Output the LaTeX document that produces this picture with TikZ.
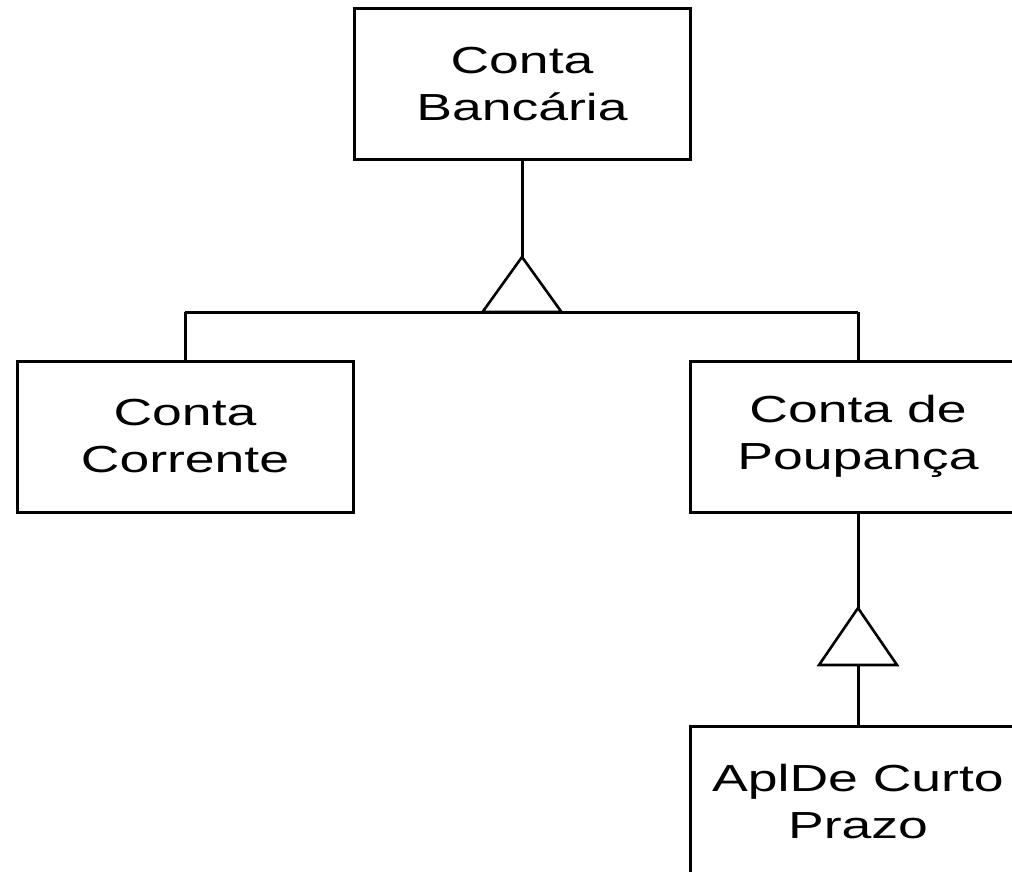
\documentclass[tikz,border=0pt]{standalone}
\usepackage{fontspec}
\setmainfont{Liberation Sans}[FakeStretch=1.42]
\begin{document}
\begin{tikzpicture}[x=1pt,y=-1pt,
  classbox/.style={draw, line width=3pt, minimum width=336pt, minimum height=151pt,
    inner sep=0pt, align=center, font=\fontsize{37.7}{47}\selectfont},
  link/.style={line width=3pt},
  gen/.style={line width=2.6pt, line join=miter, fill=white}]
  \useasboundingbox (0,0) rectangle (1012,872);
  \clip (0,0) rectangle (1012,872);

  % classes
  \node[classbox] (conta) at (522,84.5) {Conta\\Bancária};
  \node[classbox] (corrente) at (185,436.5) {Conta\\Corrente};
  \node[classbox] (poupanca) at (858,436.5) {Conta de\\Poupança};
  \node[classbox] (aplic) at (858,801.5) {AplDe Curto\\Prazo};

  % generalization: Conta Bancária <- Corrente / Poupança
  \coordinate (apexA) at (522,257);
  \coordinate (baseA) at (522,312);
  \coordinate (barL) at (corrente.north |- baseA);
  \coordinate (barR) at (poupanca.north |- baseA);
  \draw[link] (conta.south) -- (apexA);
  \draw[link] (barL) -- (barR);
  \draw[link] (barL) -- (corrente.north);
  \draw[link] (barR) -- (poupanca.north);
  \draw[gen] (apexA) -- ([xshift=-39.5pt]baseA) -- ([xshift=39.5pt]baseA) -- cycle;

  % generalization: Conta de Poupança <- AplDe Curto Prazo
  \coordinate (apexB) at (858,608);
  \coordinate (baseB) at (858,665);
  \draw[link] (poupanca.south) -- (apexB);
  \draw[link] (baseB) -- (aplic.north);
  \draw[gen] (apexB) -- ([xshift=-39pt]baseB) -- ([xshift=39pt]baseB) -- cycle;
\end{tikzpicture}
\end{document}
